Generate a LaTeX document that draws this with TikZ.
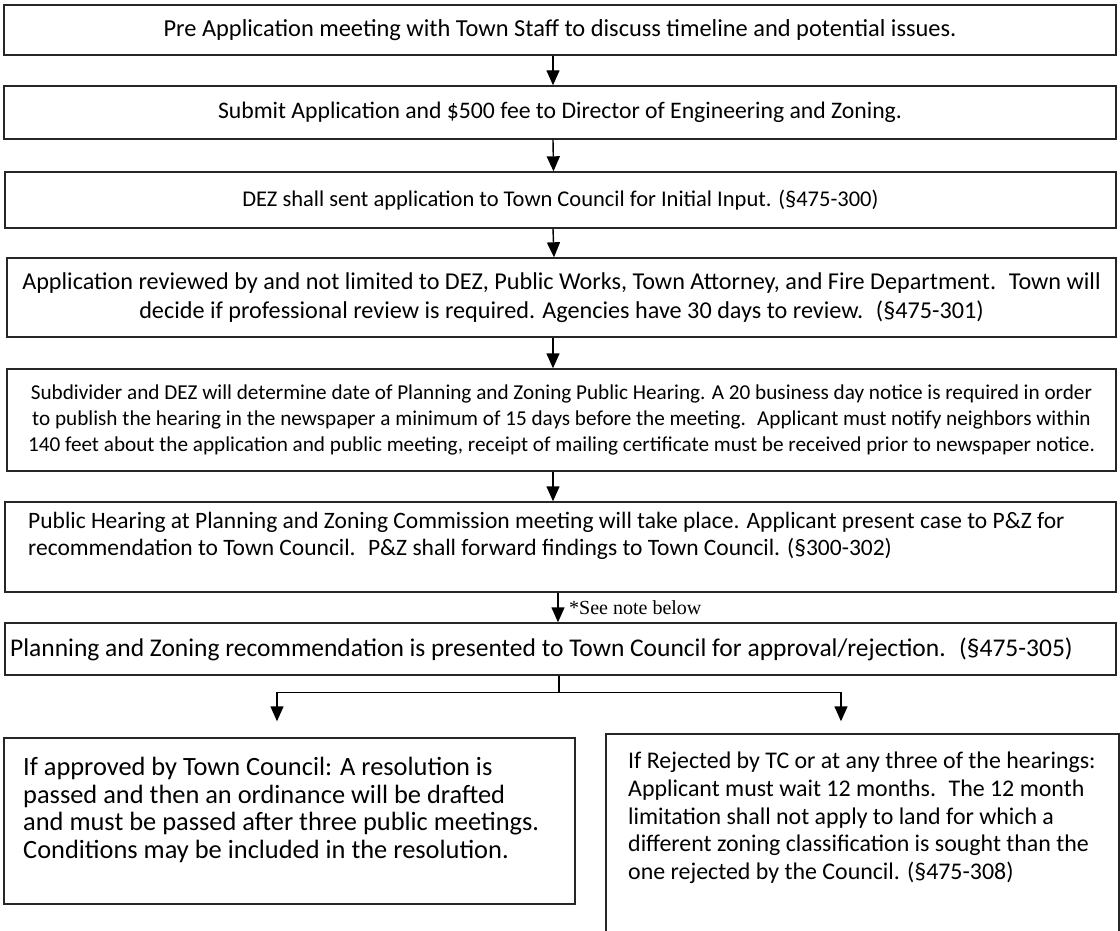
\documentclass[tikz,border=0pt]{standalone}
\usepackage{fontspec}
\setmainfont{Carlito}
\newfontfamily\notefont{Liberation Serif}
\usetikzlibrary{arrows.meta}
\begin{document}
\begin{tikzpicture}[x=1pt,y=-1pt]
	\tikzstyle{every node}=[inner sep=0pt,font=\fontsize{24.4}{29}\selectfont];
	\tikzstyle{stepbox}=[draw=black!85,line width=1.4pt,shape=rectangle,align=center];
	\tikzstyle{flow}=[line width=1.4pt,-{Triangle[length=15pt,width=13pt]}];
	\clip (0,0) rectangle (1120,931);
	\node[stepbox,minimum width=1112pt,minimum height=50pt] (s1) at (560,30) {Pre Application meeting with Town Staff to discuss timeline and potential issues.};
	\node[stepbox,minimum width=1112pt,minimum height=53pt,font=\fontsize{23.7}{28}\selectfont] (s2) at (560,112.5) {Submit Application and \$500 fee to Director of Engineering and Zoning.};
	\node[stepbox,minimum width=1111pt,minimum height=56pt,font=\fontsize{22.5}{27}\selectfont] (s3) at (560.5,200) {DEZ shall sent application to Town Council for Initial Input. (§475-300)};
	\node[stepbox,minimum width=1109pt,minimum height=79pt,font=\fontsize{24.2}{29}\selectfont] (s4) at (561.5,297.5) {Application reviewed by and not limited to DEZ, Public Works, Town Attorney, and Fire Department.~ Town will\\ decide if professional review is required. Agencies have 30 days to review.~ (§475-301)};
	\node[stepbox,minimum width=1109pt,minimum height=102pt,font=\fontsize{21.2}{26}\selectfont] (s5) at (561.5,420) {Subdivider and DEZ will determine date of Planning and Zoning Public Hearing. A 20 business day notice is required in order\\ to publish the hearing in the newspaper a minimum of 15 days before the meeting.~ Applicant must notify neighbors within\\ 140 feet about the application and public meeting, receipt of mailing certificate must be received prior to newspaper notice.};
	\node[stepbox,minimum width=1111pt,minimum height=90pt] (s6) at (560.5,547) {};
	\node[anchor=north west,align=flush left,font=\fontsize{23.5}{27}\selectfont] (t6) at (28,512) {Public Hearing at Planning and Zoning Commission meeting will take place. Applicant present case to P\&Z for\\ recommendation to Town Council.~ P\&Z shall forward findings to Town Council. (§300-302)};
	\node[stepbox,minimum width=1111pt,minimum height=52pt] (s7) at (560.5,649) {};
	\node[anchor=west,font=\fontsize{25.5}{30}\selectfont] (t7) at (10,649) {Planning and Zoning recommendation is presented to Town Council for approval/rejection.~ (§475-305)};
	\node[stepbox,minimum width=571pt,minimum height=166pt] (ok) at (289.5,821) {};
	\node[anchor=north west,align=flush left,font=\fontsize{26.4}{27.7}\selectfont] (tok) at (23,757) {If approved by Town Council: A resolution is\\ passed and then an ordinance will be drafted\\ and must be passed after three public meetings.\\ Conditions may be included in the resolution.};
	\node[stepbox,minimum width=513pt,minimum height=241pt] (no) at (862.5,854.5) {};
	\node[anchor=north west,align=flush left,font=\fontsize{23.9}{27.6}\selectfont] (tno) at (628,752) {If Rejected by TC or at any three of the hearings:\\ Applicant must wait 12 months.~ The 12 month\\ limitation shall not apply to land for which a\\ different zoning classification is sought than the\\ one rejected by the Council. (§475-308)};
	\node[anchor=west,font=\notefont\fontsize{20}{22}\selectfont] (note) at (569,608) {*See note below};
	\draw[flow] ([xshift=-7pt]s1.south) -- ([xshift=-7pt]s2.north);
	\draw[flow] ([xshift=-7pt]s2.south) -- ([xshift=-7pt]s3.north);
	\draw[flow] ([xshift=-7.5pt]s3.south) -- ([xshift=-7.5pt]s4.north);
	\draw[flow] ([xshift=-8.5pt]s4.south) -- ([xshift=-8.5pt]s5.north);
	\draw[flow] ([xshift=-8.5pt]s5.south) -- ([xshift=-7.5pt]s6.north);
	\draw[flow] ([xshift=-2.5pt]s6.south) -- ([xshift=-2.5pt]s7.north);
	\draw[line width=1.4pt] ([xshift=-1.5pt]s7.south) -- ++(0,17) coordinate (fork);
	\draw[flow,shorten >=16pt] (fork) -| ([xshift=-12.5pt]ok.north);
	\draw[flow,shorten >=12pt] (fork) -| ([xshift=-21.5pt]no.north);
\end{tikzpicture}
\end{document}
